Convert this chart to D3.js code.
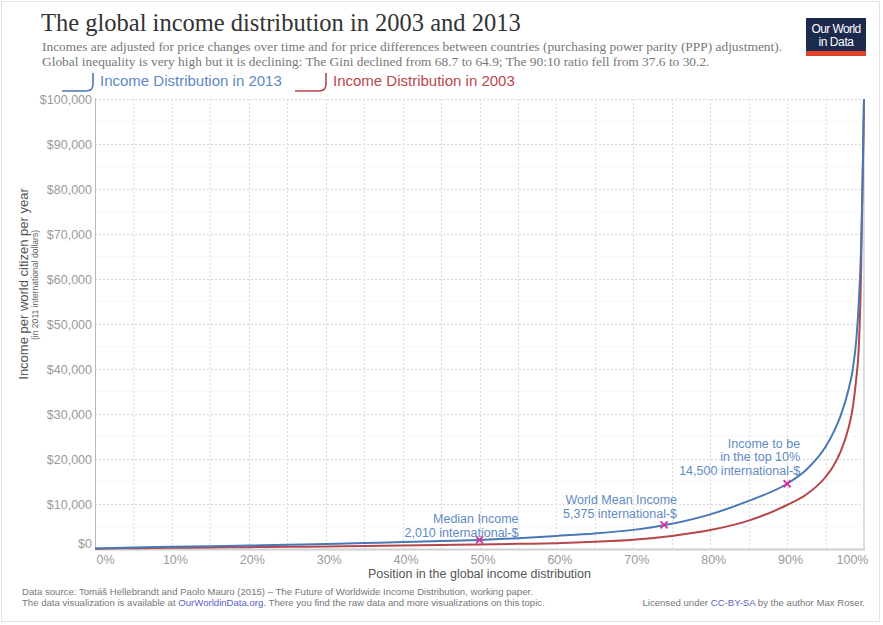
<!DOCTYPE html>
<html><head><meta charset="utf-8">
<script src="https://cdn.jsdelivr.net/npm/d3@7"></script>
<style>body{margin:0;background:#fff} svg{display:block}</style>
</head><body><svg id="c" width="883" height="625"></svg>
<script>
// ---- data ----
const percentiles = [0,5,10,15,20,25,30,35,40,45,50,55,60,65,70,75,80,85,90,92.5,95,96,97,98,98.5,99,99.3,99.6,99.8,100];
const income2013 = [100,330,480,620,770,940,1120,1320,1530,1760,2010,2400,2900,3450,4250,5600,7700,10700,14500,17600,22700,25800,29800,35500,39500,46500,54000,66000,80000,100000];
const income2003 = [60,180,260,340,410,490,570,660,760,870,1000,1140,1300,1600,2050,2900,4200,6300,9780,12100,16000,18400,21800,27000,31000,38000,44000,60000,80000,100000];
const xTicks = [0,10,20,30,40,50,60,70,80,90,100];
const yTicks = [0,10000,20000,30000,40000,50000,60000,70000,80000,90000,100000];
const seriesNames = ["Income Distribution in 2013","Income Distribution in 2003"];
const markerPercentiles = [50,74,90];
const markerValues = [2010,5375,14500];
const markerLabels = [["Median Income","2,010 international-$"],["World Mean Income","5,375 international-$"],["Income to be","in the top 10%","14,500 international-$"]];

const svg = d3.select("#c");
const SANS = "'Liberation Sans', Arial, Helvetica, sans-serif";
const SERIF = "'Liberation Serif', 'Times New Roman', serif";
const BLUE = "#4a78b5", RED = "#b5474c", BLUE_T = "#5e88c2", RED_T = "#b9474d";

// outer frame
svg.append("rect").attr("x",1.5).attr("y",1.5).attr("width",878).attr("height",620)
  .attr("fill","#fff").attr("stroke","#e2e2e2").attr("stroke-width",1);

const x = d3.scaleLinear().domain([0,100]).range([95,864]);
const y = d3.scaleLinear().domain([0,100000]).range([549,99]);

// header
svg.append("text").attr("x",41).attr("y",31).attr("font-family",SERIF).attr("font-size",24.5)
  .attr("fill","#333").text("The global income distribution in 2003 and 2013");
svg.append("text").attr("x",42).attr("y",51).attr("font-family",SERIF).attr("font-size",13.4)
  .attr("fill","#777").text("Incomes are adjusted for price changes over time and for price differences between countries (purchasing power parity (PPP) adjustment).");
svg.append("text").attr("x",42).attr("y",66).attr("font-family",SERIF).attr("font-size",13.4)
  .attr("fill","#777").text("Global inequality is very high but it is declining: The Gini declined from 68.7 to 64.9; The 90:10 ratio fell from 37.6 to 30.2.");

// logo
const logo = svg.append("g");
logo.append("rect").attr("x",806).attr("y",18).attr("width",60).attr("height",38).attr("fill","#1c2a4e");
logo.append("rect").attr("x",806).attr("y",51).attr("width",60).attr("height",5).attr("fill","#e0412a");
logo.append("text").attr("x",836).attr("y",33).attr("text-anchor","middle").attr("font-family",SANS)
  .attr("font-size",12).attr("letter-spacing",-0.6).attr("fill","#fff").text("Our World");
logo.append("text").attr("x",836).attr("y",46).attr("text-anchor","middle").attr("font-family",SANS)
  .attr("font-size",12).attr("letter-spacing",-0.4).attr("fill","#fff").text("in Data");

// legend
const legendX = [62, 295];
const legendColors = [BLUE, RED], legendTextColors = [BLUE_T, RED_T];
seriesNames.forEach((n,i)=>{
  const lx = legendX[i];
  svg.append("path").attr("d",`M${lx},91 L${lx+24},91 Q${lx+31},91 ${lx+31},84 L${lx+31},73`)
    .attr("fill","none").attr("stroke",legendColors[i]).attr("stroke-width",1.6);
  svg.append("text").attr("x",lx+38).attr("y",86).attr("font-family",SANS).attr("font-size",15)
    .attr("fill",legendTextColors[i]).text(n);
});

// minor horizontal grid
const minor = d3.range(5000,100000,10000);
svg.append("g").selectAll("line").data(minor).join("line")
  .attr("x1",x(0)).attr("x2",x(100)).attr("y1",d=>y(d)).attr("y2",d=>y(d))
  .attr("stroke","#f2f2f2").attr("stroke-width",1).attr("stroke-dasharray","2,2");
// major grid
svg.append("g").selectAll("line").data(yTicks.filter(d=>d>0)).join("line")
  .attr("x1",x(0)).attr("x2",x(100)).attr("y1",d=>y(d)+0.5).attr("y2",d=>y(d)+0.5)
  .attr("stroke","#d9d9d9").attr("stroke-width",1).attr("stroke-dasharray","2,2");
svg.append("g").selectAll("line").data(d3.range(5,100,5)).join("line")
  .attr("x1",d=>Math.round(x(d))+0.5).attr("x2",d=>Math.round(x(d))+0.5).attr("y1",y(100000)).attr("y2",y(0))
  .attr("stroke","#d9d9d9").attr("stroke-width",1).attr("stroke-dasharray","2,2");

// plot frame lines
svg.append("line").attr("x1",x(100)).attr("x2",x(100)).attr("y1",y(100000)).attr("y2",y(0)+1)
  .attr("stroke","#dcdcdc").attr("stroke-width",2);
svg.append("line").attr("x1",x(0)).attr("x2",x(100)+1).attr("y1",y(0)+0.5).attr("y2",y(0)+0.5)
  .attr("stroke","#cfcfcf").attr("stroke-width",2);
svg.append("line").attr("x1",x(0)+0.5).attr("x2",x(0)+0.5).attr("y1",y(100000)-1).attr("y2",y(0)+1)
  .attr("stroke","#b8b8b8").attr("stroke-width",1);

// axes
const yAxis = svg.append("g").attr("transform",`translate(${x(0)},0)`)
  .call(d3.axisLeft(y).tickValues(yTicks).tickSize(0).tickPadding(3).tickFormat(d=>"$"+d3.format(",")(d)));
yAxis.select(".domain").remove();
yAxis.selectAll("text").attr("font-family",SANS).attr("font-size",12.5).attr("fill","#9a9a9a");
yAxis.selectAll(".tick").filter(d=>d===0).select("text").attr("dy","-0.15em");

const xAxis = svg.append("g").attr("transform",`translate(0,${y(0)})`)
  .call(d3.axisBottom(x).tickValues(xTicks).tickSize(0).tickPadding(6).tickFormat(d=>d+"%"));
xAxis.select(".domain").remove();
xAxis.selectAll("text").attr("font-family",SANS).attr("font-size",12.5).attr("fill","#9a9a9a").attr("dx",3);
xAxis.selectAll(".tick").filter(d=>d===0).select("text").attr("text-anchor","start").attr("dx",1);
xAxis.selectAll(".tick").filter(d=>d===100).select("text").attr("text-anchor","end").attr("dx",4);

// axis titles
svg.append("text").attr("x",(x(0)+x(100))/2).attr("y",578).attr("text-anchor","middle")
  .attr("font-family",SANS).attr("font-size",12.5).attr("fill","#555").text("Position in the global income distribution");
svg.append("text").attr("transform","translate(28,284) rotate(-90)").attr("text-anchor","middle")
  .attr("font-family",SANS).attr("font-size",13).attr("fill","#555").text("Income per world citizen per year");
svg.append("text").attr("transform","translate(38,285) rotate(-90)").attr("text-anchor","middle")
  .attr("font-family",SANS).attr("font-size",8.6).attr("fill","#666").text("(in 2011 international dollars)");

// lines
const line = vals => d3.line().x((d,i)=>x(percentiles[i])).y(d=>y(d)).curve(d3.curveMonotoneX)(vals);
svg.append("path").attr("d",line(income2003)).attr("fill","none").attr("stroke",RED).attr("stroke-width",2);
svg.append("path").attr("d",line(income2013)).attr("fill","none").attr("stroke",BLUE).attr("stroke-width",2);

// markers & annotations
const annDx = [39,13,13];
const annBase = [-3,-7,-9];
markerPercentiles.forEach((p,i)=>{
  const mx = x(p), my = y(markerValues[i]);
  const lines = markerLabels[i];
  lines.forEach((t,j)=>{
    svg.append("text").attr("x",mx+annDx[i]).attr("y",my+annBase[i]-(lines.length-1-j)*13.5)
      .attr("text-anchor","end").attr("font-family",SANS).attr("font-size",12.5)
      .attr("fill","#5f8ac4").text(t);
  });
  const s = 3.5;
  svg.append("path").attr("d",`M${mx-s},${my-s}L${mx+s},${my+s}M${mx-s},${my+s}L${mx+s},${my-s}`)
    .attr("stroke","#d0339f").attr("stroke-width",1.8).attr("fill","none");
});

// footer
const f1 = svg.append("text").attr("x",22).attr("y",595).attr("font-family",SANS).attr("font-size",9.6).attr("fill","#777");
f1.text("Data source: Tomáš Hellebrandt and Paolo Mauro (2015) – The Future of Worldwide Income Distribution, working paper.");
const f2 = svg.append("text").attr("x",22).attr("y",606).attr("font-family",SANS).attr("font-size",9.6).attr("fill","#777");
f2.append("tspan").text("The data visualization is available at ");
f2.append("tspan").attr("fill","#5a5fc4").text("OurWorldinData.org");
f2.append("tspan").text(". There you find the raw data and more visualizations on this topic.");
const f3 = svg.append("text").attr("x",865).attr("y",606).attr("text-anchor","end").attr("font-family",SANS).attr("font-size",9.6).attr("fill","#777");
f3.append("tspan").text("Licensed under ");
f3.append("tspan").attr("fill","#5a5fc4").text("CC-BY-SA");
f3.append("tspan").text(" by the author Max Roser.");
</script></body></html>
